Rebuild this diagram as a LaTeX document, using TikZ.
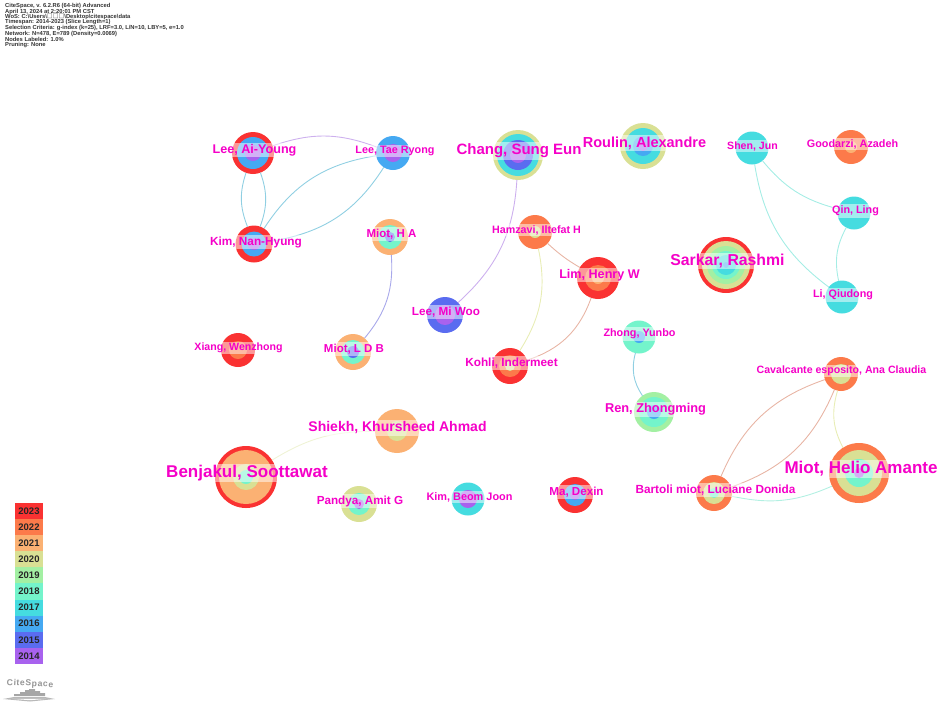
\documentclass[tikz,border=0pt]{standalone}
\usepackage{fontspec}
\setmainfont{Liberation Sans}
\newfontfamily\cjkfont{Noto Sans CJK SC}
\newfontfamily\logofont[LetterSpace=7]{Liberation Sans}
\definecolor{y23}{HTML}{FA3232}
\definecolor{y22}{HTML}{FC7A4A}
\definecolor{y21}{HTML}{FBB173}
\definecolor{y20}{HTML}{D9E094}
\definecolor{y19}{HTML}{A3F0A3}
\definecolor{y18}{HTML}{74F4CB}
\definecolor{y17}{HTML}{45DCE0}
\definecolor{y16}{HTML}{45A9F2}
\definecolor{y15}{HTML}{5A6CF0}
\definecolor{y14}{HTML}{A862EE}
\definecolor{lblue}{HTML}{90CFE2}
\definecolor{lviolet}{HTML}{CDB0EE}
\definecolor{lperi}{HTML}{A8A8EA}
\definecolor{lsalmon}{HTML}{E8B5A5}
\definecolor{lyellow}{HTML}{E8EDB5}
\definecolor{lcyan}{HTML}{A5EDE5}
\definecolor{lmint}{HTML}{B2F0E2}
\definecolor{lpale}{HTML}{EFF3D5}
\definecolor{lab}{HTML}{F500C8}
\tikzset{
  ring/.style={circle,inner sep=0pt,outer sep=0pt,draw=none},
  authorlabel/.style={font=\bfseries\fontsize{#1}{#1}\selectfont,text=lab,fill=white,fill opacity=0.5,text opacity=1,inner xsep=0pt,inner ysep=1.5pt},
  link/.style={line width=0.9pt},
  yearbox/.style={minimum width=28pt,minimum height=16.1pt,inner sep=0pt,outer sep=0pt,font=\bfseries\fontsize{9.5}{9.5}\selectfont,text=black!85},
  headline/.style={anchor=west,inner sep=0pt,font=\bfseries\fontsize{5.8}{5.8}\selectfont,text=black!80},
  logobar/.style={fill=black!35,draw=none}
}
\newcommand{\authornode}[4]{\foreach \rr/\cc [count=\ii] in {#4}{\node[ring,minimum size=2*\rr pt,fill=\cc] (#1-\ii) at (#2,#3) {};}}
\begin{document}
\begin{tikzpicture}[x=1pt,y=-1pt]
\useasboundingbox (0,0) rectangle (941,705);
% nodes
\authornode{lay}{253}{153}{21/y23,16/y16,8/y14}
\authornode{ltr}{393}{153}{17/y16,9/y14}
\authornode{knh}{254}{244}{18.5/y23,12.5/y16,6/y14}
\authornode{mha}{390}{237}{18/y21,12/y18,5/y15}
\authornode{cse}{518}{155}{25/y20,21/y17,15/y15,8/y14}
\authornode{rou}{643}{146}{23/y20,18/y17,10/y16,5/y14}
\authornode{ham}{535}{232}{17/y22,6/y20}
\authornode{lim}{598}{278}{21/y23,13/y22,6/y21}
\authornode{sar}{726}{265}{28/y23,24/y20,19/y19,14/y18,10/y17,3/y16}
\authornode{she}{752}{148}{16.5/y17}
\authornode{goo}{851}{147}{17/y22,6/y21}
\authornode{qin}{854}{213}{16.5/y17}
\authornode{liq}{842}{297}{16.5/y17}
\authornode{lmw}{445}{315}{18/y15,10/y14}
\authornode{koh}{510}{366}{18/y23,11/y22,5/y20}
\authornode{zho}{639}{337}{16.5/y18,6/y16}
\authornode{ren}{654}{412}{20/y19,15/y18,7/y16}
\authornode{xia}{238}{350}{17/y23,9/y22}
\authornode{ldb}{353}{352}{18/y21,12/y18,6/y15}
\authornode{cav}{841}{374}{17/y22,10/y20}
\authornode{hel}{859}{473}{30/y22,23/y20,14/y18,5/y14}
\authornode{bar}{714}{493}{18/y22,11/y20,5/y18}
\authornode{ben}{246}{477}{31/y23,27/y21,13/y20,7/y18}
\authornode{shi}{397}{431}{22/y21,10/y20}
\authornode{pan}{359}{504}{18/y20,11/y18,5/y14}
\authornode{kbj}{468}{499}{16.5/y17,9/y14}
\authornode{mad}{575}{495}{18/y23,11/y16,5/y14}
% connectors
\draw[link,lviolet] (lay-1) to[bend left=20] (ltr-1);
\draw[link,lblue] (lay-1) to[bend right=20] (knh-1);
\draw[link,lblue] (lay-1) to[bend left=20] (knh-1);
\draw[link,lblue] (ltr-1) to[bend right=24] (knh-1);
\draw[link,lblue] (ltr-1) to[bend left=24] (knh-1);
\draw[link,lperi] (mha-1) to[bend left=22] (ldb-1);
\draw[link,lviolet] (cse-1) to[bend left=22] (lmw-1);
\draw[link,lsalmon] (ham-1) to[bend right=6] (lim-1);
\draw[link,lyellow] (ham-1) to[bend left=22] (koh-1);
\draw[link,lsalmon] (lim-1) to[bend left=26] (koh-1);
\draw[link,lcyan] (she-1) to[bend right=22] (liq-1);
\draw[link,lcyan] (she-1) to[bend right=18] (qin-1);
\draw[link,lcyan] (qin-1) to[bend right=20] (liq-1);
\draw[link,lblue] (zho-1) to[bend right=24] (ren-1);
\draw[link,lsalmon] (cav-1) to[bend right=24] (bar-1);
\draw[link,lsalmon] (cav-1) to[bend left=24] (bar-1);
\draw[link,lyellow] (cav-1) to[bend right=22] (hel-1);
\draw[link,lmint] (bar-1) to[bend right=18] (hel-1);
\draw[link,lpale] (ben-1) to[bend left=16] (shi-1);
% labels
\node[authorlabel=12.6] (lay-t) at (254.5,150) {Lee, Ai-Young};
\node[authorlabel=10.8] (ltr-t) at (395,151) {Lee, Tae Ryong};
\node[authorlabel=11.8] (knh-t) at (256,242) {Kim, Nan-Hyung};
\node[authorlabel=11.5] (mha-t) at (391.5,234) {Miot, H A};
\node[authorlabel=15] (cse-t) at (519,151) {Chang, Sung Eun};
\node[authorlabel=14.5] (rou-t) at (644.5,143) {Roulin, Alexandre};
\node[authorlabel=10.7] (ham-t) at (536.5,230) {Hamzavi, Iltefat H};
\node[authorlabel=12.6] (lim-t) at (599.5,275) {Lim, Henry W};
\node[authorlabel=15.8] (sar-t) at (727.5,261) {Sarkar, Rashmi};
\node[authorlabel=10.6] (she-t) at (752.5,146) {Shen, Jun};
\node[authorlabel=10.8] (goo-t) at (852.5,144) {Goodarzi, Azadeh};
\node[authorlabel=10.8] (qin-t) at (855.5,211) {Qin, Ling};
\node[authorlabel=10.8] (liq-t) at (843,295) {Li, Qiudong};
\node[authorlabel=11.7] (lmw-t) at (446,312) {Lee, Mi Woo};
\node[authorlabel=11.8] (koh-t) at (511.5,363) {Kohli, Indermeet};
\node[authorlabel=10.8] (zho-t) at (639.5,334) {Zhong, Yunbo};
\node[authorlabel=12.8] (ren-t) at (655.5,409) {Ren, Zhongming};
\node[authorlabel=10.6] (xia-t) at (238.5,348) {Xiang, Wenzhong};
\node[authorlabel=11.5] (ldb-t) at (354,349) {Miot, L D B};
\node[authorlabel=10.6] (cav-t) at (841.5,371) {Cavalcante esposito, Ana Claudia};
\node[authorlabel=17] (hel-t) at (861,469) {Miot, Helio Amante};
\node[authorlabel=11.8] (bar-t) at (715.5,490) {Bartoli miot, Luciane Donida};
\node[authorlabel=17] (ben-t) at (247,473) {Benjakul, Soottawat};
\node[authorlabel=14] (shi-t) at (397.5,428) {Shiekh, Khursheed Ahmad};
\node[authorlabel=11.7] (pan-t) at (360,501) {Pandya, Amit G};
\node[authorlabel=10.9] (kbj-t) at (469.5,497) {Kim, Beom Joon};
\node[authorlabel=11.6] (mad-t) at (576.5,492) {Ma, Dexin};
% legend
\foreach \yy/\cc/\lab [count=\ii] in {511/y23/2023,527.1/y22/2022,543.2/y21/2021,559.3/y20/2020,575.4/y19/2019,591.5/y18/2018,607.6/y17/2017,623.7/y16/2016,639.8/y15/2015,655.9/y14/2014}
  \node[yearbox,fill=\cc] (yr-\ii) at (29,\yy) {\lab};
% header
\node[headline] (h1) at (5,6) {CiteSpace, v. 6.2.R6 (64-bit) Advanced};
\node[headline] (h2) at (5,11.5) {April 13, 2024 at 2:20:01 PM CST};
\node[headline] (h3) at (5,17) {WoS: C:\textbackslash Users\textbackslash{\cjkfont □□□}\textbackslash Desktop\textbackslash citespace\textbackslash data};
\node[headline] (h4) at (5,22.5) {Timespan: 2014-2023 (Slice Length=1)};
\node[headline] (h5) at (5,28.2) {Selection Criteria: g-index (k=25), LRF=3.0, L/N=10, LBY=5, e=1.0};
\node[headline] (h6) at (5,33.7) {Network: N=478, E=789 (Density=0.0069)};
\node[headline] (h7) at (5,39.2) {Nodes Labeled: 1.0\%};
\node[headline] (h8) at (5,44.8) {Pruning: None};
% logo
\node[inner sep=0pt,rotate=-3,font=\logofont\bfseries\fontsize{8.6}{8.6}\selectfont,text=black!42] (logo) at (30,684) {CiteSpace};
\fill[logobar] (14,696) rectangle (20,694) (20,696) rectangle (25,692) (25,696) rectangle (29,690) (29,696) rectangle (35,689) (35,696) rectangle (40,691) (40,696) rectangle (45,693);
\fill[black!28] (3,699) -- (14,697) -- (45,697) -- (55,699) -- (30,701.5) -- cycle;
\fill[white] (12,698.8) -- (46,698.8) -- (30,700.2) -- cycle;
\end{tikzpicture}
\end{document}
